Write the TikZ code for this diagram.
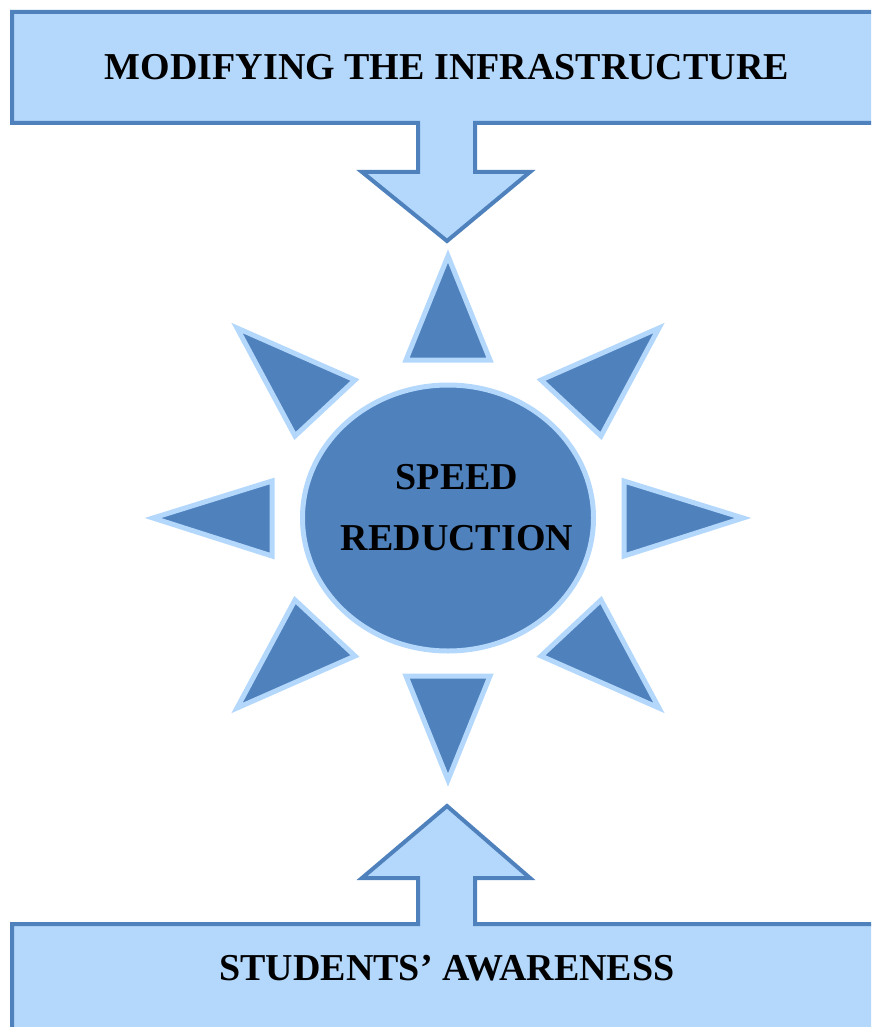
\documentclass[tikz,border=0pt]{standalone}
\usepackage{fontspec}
\setmainfont{Liberation Serif}
\usetikzlibrary{shapes.geometric}

\begin{document}
\begin{tikzpicture}[x=1pt,y=-1pt,
    callout/.style={draw=darkblue, fill=lightblue, line width=4pt, miter limit=20},
    ray/.style={draw=lightblue, fill=darkblue, line width=5pt, miter limit=20},
    boxtext/.style={font=\bfseries\fontsize{38}{44}\selectfont, text=black, inner sep=0pt}]
    \definecolor{darkblue}{RGB}{79,129,189}
    \definecolor{lightblue}{RGB}{180,216,252}

    \clip (0,0) rectangle (871,1027);

    % Top box with its arrow down
    \draw[callout] (12,12) -- (890,12) -- (890,123) -- (475,123) -- (475,172) -- (530,172)
        -- (447,241) -- (362,172) -- (418,172) -- (418,123) -- (12,123) -- cycle;
    \node[boxtext] (infra) at (447,67) {MODIFYING THE INFRASTRUCTURE};

    % Bottom box with its arrow up
    \draw[callout] (12,1045) -- (12,924) -- (418,924) -- (418,878) -- (362,878) -- (447,806)
        -- (530,878) -- (475,878) -- (475,924) -- (890,924) -- (890,1045);
    \node[boxtext] (aware) at (447,968) {STUDENTS’ AWARENESS};

    % Sun: rays round the ellipse
    \foreach \ax/\ay/\bx/\by/\cx/\cy in {448/256/406/360/490/360, 448/780/406/676/490/676,
        153/518/272/481/272/556, 743/518/624/481/624/556,
        237/328/355/380/295/436, 659/328/541/380/601/436,
        237/708/355/656/295/600, 659/708/541/656/601/600}
      \draw[ray] (\ax,\ay) -- (\bx,\by) -- (\cx,\cy) -- cycle;

    \node[ellipse, draw=lightblue, fill=darkblue, line width=5pt, inner sep=0pt,
        minimum width=291pt, minimum height=266pt] (sun) at (448,518) {};
    \node[boxtext] (speed) at (457,477) {SPEED};
    \node[boxtext] (reduction) at (457,538) {REDUCTION};
  \end{tikzpicture}
\end{document}
